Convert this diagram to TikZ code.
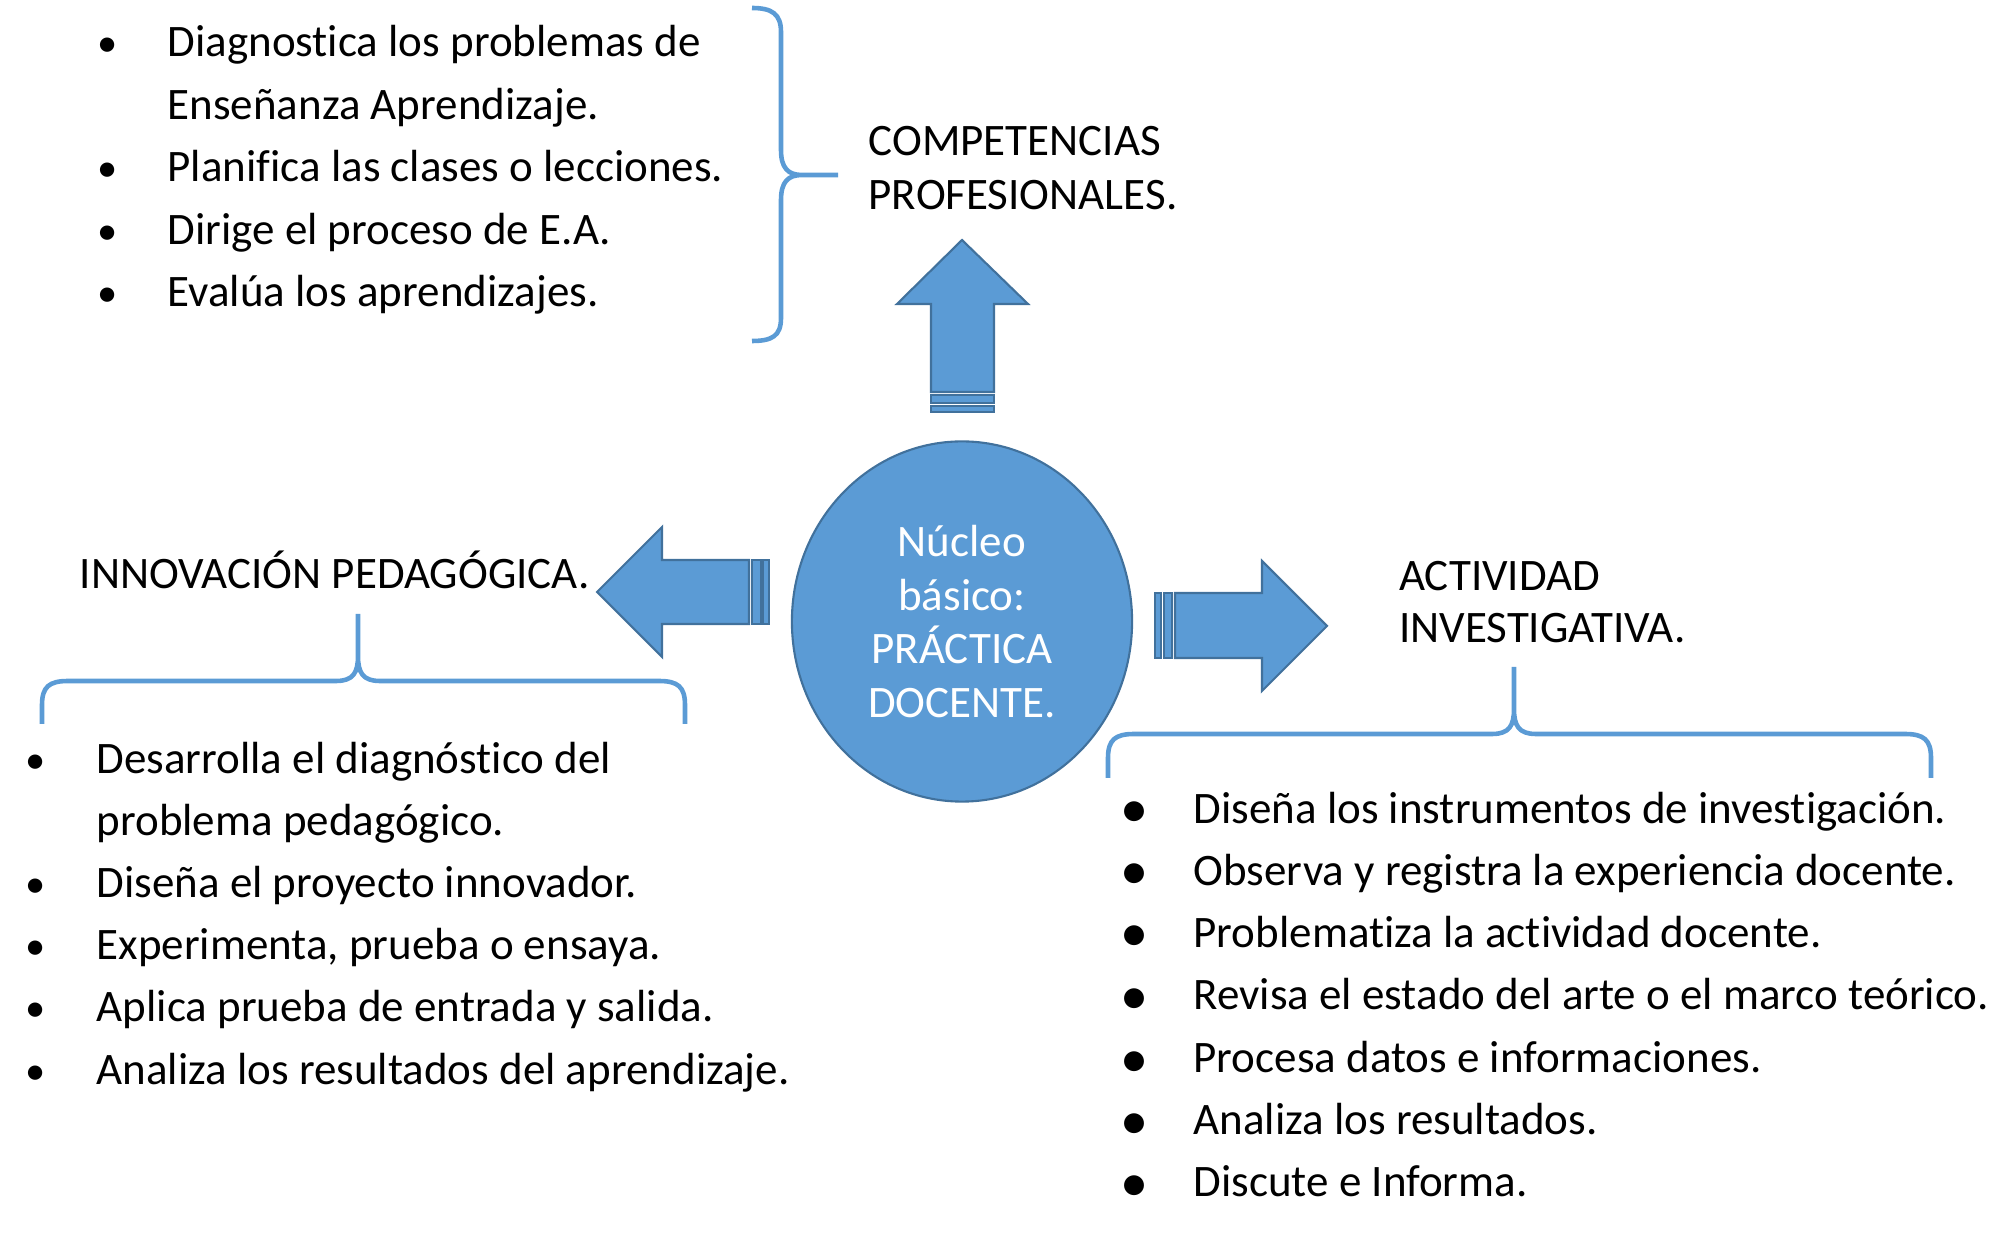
\documentclass[tikz,border=0pt]{standalone}
\usepackage{fontspec}
\setmainfont{Carlito}[Ligatures = NoCommon]
\usetikzlibrary{shapes.geometric}
\definecolor{officeblue}{HTML}{5B9BD5}
\definecolor{officeline}{HTML}{41719C}

\begin{document}
\begin{tikzpicture}[
					x = 0.01cm, y = -0.01cm,
					item/.style = {
						anchor = base west,
						inner sep = 0pt,
						font = \fontsize{12.8pt}{15pt}\selectfont,
					},
					dot/.style = {
						anchor = base,
						inner sep = 0pt,
						font = \fontsize{11.5pt}{15pt}\selectfont,
					},
					bigdot/.style = {
						dot,
						yshift = -0.4mm,
						font = \fontsize{16pt}{20pt}\selectfont,
					},
					blockarrow/.style = {
						fill = officeblue,
						draw = officeline,
						line width = 0.6pt,
					},
					curly/.style = {
						draw = officeblue,
						line width = 1.3pt,
					},
					core/.style = {
						shape = ellipse,
						fill = officeblue,
						draw = officeline,
						line width = 0.6pt,
						minimum width = 3.4cm,
						minimum height = 3.6cm,
						inner sep = 0pt,
						align = center,
						text = white,
						font = \fontsize{12.8pt}{15.2pt}\selectfont,
					},
			]
				\useasboundingbox (0, 0) rectangle (1999, 1237);

				% competencias
				\draw (108, 57) node (pd1) [dot] {•};
				\draw (167, 57) node (p1) [item] {Diagnostica los problemas de};
				\draw (167, 119.5) node (p1b) [item] {Enseñanza Aprendizaje.};
				\draw (108, 182) node (pd2) [dot] {•};
				\draw (167, 182) node (p2) [item] {Planifica las clases o lecciones.};
				\draw (108, 244.5) node (pd3) [dot] {•};
				\draw (167, 244.5) node (p3) [item] {Dirige el proceso de E.A.};
				\draw (108, 307) node (pd4) [dot] {•};
				\draw (167, 307) node (p4) [item] {Evalúa los aprendizajes.};

				\draw[curly] (752, 8) .. controls (772, 8) and (781, 14) .. (781, 32) -- (781, 150)
					.. controls (781, 168) and (788, 175) .. (802, 175) -- (838, 175) -- (802, 175)
					.. controls (788, 175) and (781, 182) .. (781, 200) -- (781, 318)
					.. controls (781, 336) and (772, 341) .. (752, 341);

				\draw (868, 156) node (comp1) [item] {COMPETENCIAS};
				\draw (868, 209.5) node (comp2) [item] {PROFESIONALES.};

				% nucleo
				\node (core) [core] at (962, 621.5) {Núcleo\\básico:\\PRÁCTICA\\DOCENTE.};

				\draw[blockarrow] (931, 392) -- (931, 304) -- (897, 304) -- (962, 240) -- (1028, 304)
					-- (994, 304) -- (994, 392) -- cycle;
				\draw[blockarrow] (931, 395) rectangle (994, 403);
				\draw[blockarrow] (931, 406) rectangle (994, 412);

				\draw[blockarrow] (749, 560) -- (662, 560) -- (662, 527) -- (597, 592) -- (662, 657)
					-- (662, 624) -- (749, 624) -- cycle;
				\draw[blockarrow] (752, 560) rectangle (761, 624);
				\draw[blockarrow] (763, 560) rectangle (769, 624);

				\draw[blockarrow] (1175, 593) -- (1262, 593) -- (1262, 561) -- (1327, 626) -- (1262, 691)
					-- (1262, 658) -- (1175, 658) -- cycle;
				\draw[blockarrow] (1164, 593) rectangle (1172, 658);
				\draw[blockarrow] (1155, 593) rectangle (1161, 658);

				% innovacion
				\draw (79, 588.5) node (inno) [item] {INNOVACIÓN PEDAGÓGICA.};

				\draw[curly] (42, 724) -- (42, 705) .. controls (42, 687) and (49, 681) .. (68, 681) -- (336, 681)
					.. controls (353, 681) and (358, 673) .. (358, 656) -- (358, 614) -- (358, 656)
					.. controls (358, 673) and (363, 681) .. (380, 681) -- (659, 681)
					.. controls (678, 681) and (685, 687) .. (685, 705) -- (685, 724);

				\draw (36, 774) node (ld1) [dot] {•};
				\draw (96, 774) node (l1) [item] {Desarrolla el diagnóstico del};
				\draw (96, 836) node (l1b) [item] {problema pedagógico.};
				\draw (36, 898) node (ld2) [dot] {•};
				\draw (96, 898) node (l2) [item] {Diseña el proyecto innovador.};
				\draw (36, 960) node (ld3) [dot] {•};
				\draw (96, 960) node (l3) [item] {Experimenta, prueba o ensaya.};
				\draw (36, 1022) node (ld4) [dot] {•};
				\draw (96, 1022) node (l4) [item] {Aplica prueba de entrada y salida.};
				\draw (36, 1084) node (ld5) [dot] {•};
				\draw (96, 1084) node (l5) [item] {Analiza los resultados del aprendizaje.};

				% actividad
				\draw (1398.5, 590.5) node (act1) [item] {ACTIVIDAD};
				\draw (1398.5, 643) node (act2) [item] {INVESTIGATIVA.};

				\draw[curly] (1108, 778) -- (1108, 758) .. controls (1108, 740) and (1115, 734) .. (1134, 734) -- (1492, 734)
					.. controls (1509, 734) and (1514, 726) .. (1514, 709) -- (1514, 667) -- (1514, 709)
					.. controls (1514, 726) and (1519, 734) .. (1536, 734) -- (1905, 734)
					.. controls (1924, 734) and (1931, 740) .. (1931, 758) -- (1931, 778);

				\draw (1135, 824) node (rd1) [bigdot] {•};
				\draw (1193, 824) node (r1) [item] {Diseña los instrumentos de investigación.};
				\draw (1135, 886) node (rd2) [bigdot] {•};
				\draw (1193, 886) node (r2) [item] {Observa y registra la experiencia docente.};
				\draw (1135, 948) node (rd3) [bigdot] {•};
				\draw (1193, 948) node (r3) [item] {Problematiza la actividad docente.};
				\draw (1135, 1010) node (rd4) [bigdot] {•};
				\draw (1193, 1010) node (r4) [item] {Revisa el estado del arte o el marco teórico.};
				\draw (1135, 1073) node (rd5) [bigdot] {•};
				\draw (1193, 1073) node (r5) [item] {Procesa datos e informaciones.};
				\draw (1135, 1135) node (rd6) [bigdot] {•};
				\draw (1193, 1135) node (r6) [item] {Analiza los resultados.};
				\draw (1135, 1197) node (rd7) [bigdot] {•};
				\draw (1193, 1197) node (r7) [item] {Discute e Informa.};
			\end{tikzpicture}
\end{document}
